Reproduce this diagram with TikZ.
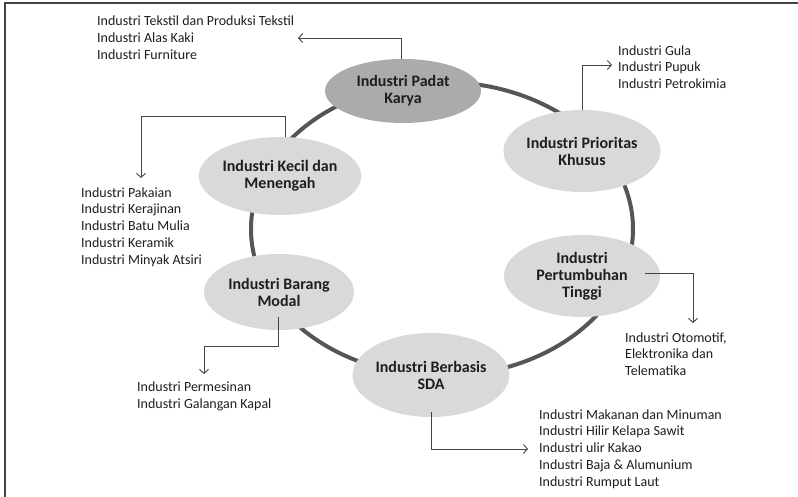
\documentclass[tikz,border=0pt]{standalone}
\usepackage{fontspec}
\setmainfont{Carlito}
\usetikzlibrary{shapes.geometric,arrows.meta}
\definecolor{ringgray}{HTML}{555555}
\definecolor{linegray}{HTML}{444444}
\definecolor{darkfill}{HTML}{ABABAB}
\definecolor{lightfill}{HTML}{D9D9D9}
\definecolor{txtgray}{HTML}{1E1E1E}
\tikzset{
  sector/.style={ellipse, fill=lightfill, inner sep=0pt, align=center,
    font=\fontsize{16}{17}\selectfont\bfseries, text=txtgray},
  conn/.style={draw=linegray, line width=0.9pt,
    -{Straight Barb[length=4pt,width=9pt]}},
  itemlist/.style={anchor=west, align=left, inner sep=0pt,
    font=\fontsize{14}{16.8}\selectfont, text=txtgray},
}
\begin{document}
\begin{tikzpicture}[x=1pt,y=1pt]
\useasboundingbox (0,0) rectangle (798,497);
% frame (top and left edges)
\draw[linegray, line width=1.4pt] (5,0) -- (5,494) -- (798,494);

% ring linking the sectors
\draw[ringgray, line width=4pt] (442,268) ellipse [x radius=191, y radius=147];

% sectors
\node[sector, fill=darkfill, minimum width=156pt, minimum height=64pt] (pk) at (403,406) {Industri Padat\\Karya};
\node[sector, minimum width=156pt, minimum height=82pt] (pr) at (582,346) {Industri Prioritas\\Khusus};
\node[sector, minimum width=156pt, minimum height=82pt] (pt) at (582,221) {Industri\\Pertumbuhan\\Tinggi};
\node[sector, minimum width=148pt, minimum height=84pt] (sda) at (431,122) {Industri Berbasis\\SDA};
\node[sector, minimum width=150pt, minimum height=76pt] (bm) at (279,205) {Industri Barang\\Modal};
\node[sector, minimum width=146pt, minimum height=78pt] (ke) at (280,321) {Industri Kecil dan\\Menengah};

% industry lists
\node[itemlist] (l1) at (97,459.5) {Industri Tekstil dan Produksi Tekstil\\Industri Alas Kaki\\Industri Furniture};
\node[itemlist] (l2) at (618,430) {Industri Gula\\Industri Pupuk\\Industri Petrokimia};
\node[itemlist] (l3) at (81,270) {Industri Pakaian\\Industri Kerajinan\\Industri Batu Mulia\\Industri Keramik\\Industri Minyak Atsiri};
\node[itemlist] (l4) at (137,100.5) {Industri Permesinan\\Industri Galangan Kapal};
\node[itemlist] (l5) at (625,143) {Industri Otomotif,\\Elektronika dan\\Telematika};
\node[itemlist] (l6) at (539,48) {Industri Makanan dan Minuman\\Industri Hilir Kelapa Sawit\\Industri ulir Kakao\\Industri Baja \& Alumunium\\Industri Rumput Laut};

% arrow ends
\coordinate (t1) at (298,459);
\coordinate (t2) at (612,432);
\coordinate (k3) at (285,381);
\coordinate (t3) at (141,319);
\coordinate (s4) at (278,180);
\coordinate (k4) at (278,151);
\coordinate (t4) at (204,123);
\coordinate (s5) at (645,224);
\coordinate (t5) at (693,174);
\coordinate (s6) at (431,85);
\coordinate (t6) at (528,48);

% connectors
\draw[conn] ([xshift=-2pt]pk.north) |- (t1);
\draw[conn] (pr.north) |- (t2);
\draw[conn] (ke.north -| k3) -- (k3) -| (t3);
\draw[conn] (s4) -- (k4) -| (t4);
\draw[conn] (s5) -| (t5);
\draw[conn] (s6) |- (t6);
\end{tikzpicture}
\end{document}
